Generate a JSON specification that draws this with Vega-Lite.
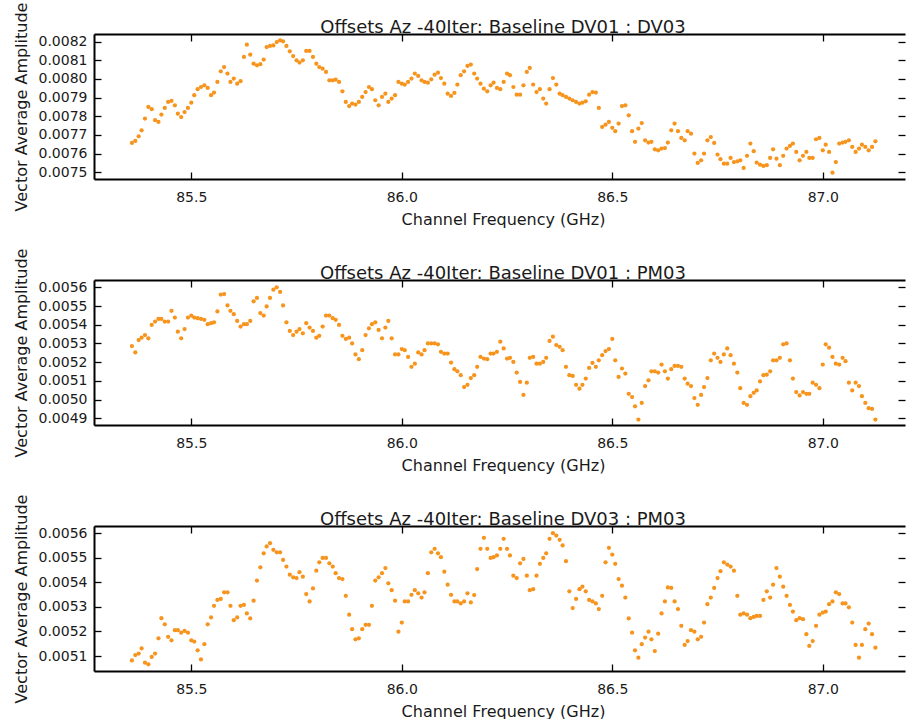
{
"$schema": "https://vega.github.io/schema/vega-lite/v6.json",
"background": "white",
"padding": {"left": 13, "top": 2, "right": 0, "bottom": 0},
"spacing": 101,
"bounds": "flush",
"config": {
  "font": "DejaVu Sans",
  "view": {"stroke": null},
  "axis": {"grid": false, "labelFont": "DejaVu Sans", "labelFontSize": 14, "labelColor": "#1a1a1a", "titleFont": "DejaVu Sans", "titleFontSize": 16, "titleFontWeight": "normal", "titleColor": "#1a1a1a", "domainColor": "#000", "domainWidth": 2, "tickColor": "#000", "tickWidth": 1.3, "tickSize": -7},
  "title": {"font": "DejaVu Sans", "fontSize": 18, "fontWeight": "normal", "color": "#1a1a1a", "anchor": "middle", "baseline": "alphabetic", "offset": 2, "dx": 3.5, "dy": 37, "frame": "group"}
},
"datasets": {
"p1": [
{"f":85.359,"a":0.007657},{"f":85.367,"a":0.007668},{"f":85.375,"a":0.007693},{"f":85.382,"a":0.007725},{"f":85.390,"a":0.007788},{"f":85.398,"a":0.00785},{"f":85.406,"a":0.007838},{"f":85.414,"a":0.007779},
{"f":85.422,"a":0.00777},{"f":85.429,"a":0.007809},{"f":85.437,"a":0.007845},{"f":85.445,"a":0.007877},{"f":85.453,"a":0.007882},{"f":85.461,"a":0.007859},{"f":85.468,"a":0.007814},{"f":85.476,"a":0.007796},
{"f":85.484,"a":0.007823},{"f":85.492,"a":0.007845},{"f":85.5,"a":0.007873},{"f":85.507,"a":0.007913},{"f":85.515,"a":0.007945},{"f":85.523,"a":0.007957},{"f":85.531,"a":0.007966},{"f":85.539,"a":0.007952},
{"f":85.547,"a":0.007913},{"f":85.554,"a":0.007927},{"f":85.562,"a":0.007984},{"f":85.57,"a":0.008041},{"f":85.578,"a":0.008064},{"f":85.586,"a":0.008029},{"f":85.593,"a":0.007984},{"f":85.601,"a":0.008002},
{"f":85.609,"a":0.007975},{"f":85.617,"a":0.007988},{"f":85.625,"a":0.008118},{"f":85.632,"a":0.008184},{"f":85.64,"a":0.00813},{"f":85.648,"a":0.008082},{"f":85.656,"a":0.008073},{"f":85.664,"a":0.008079},
{"f":85.672,"a":0.008104},{"f":85.679,"a":0.008171},{"f":85.687,"a":0.008177},{"f":85.695,"a":0.00818},{"f":85.703,"a":0.008198},{"f":85.711,"a":0.008207},{"f":85.718,"a":0.008202},{"f":85.726,"a":0.008177},
{"f":85.734,"a":0.008148},{"f":85.742,"a":0.008123},{"f":85.75,"a":0.0081},{"f":85.757,"a":0.008088},{"f":85.765,"a":0.0081},{"f":85.773,"a":0.00815},{"f":85.781,"a":0.00815},{"f":85.789,"a":0.008118},
{"f":85.797,"a":0.008082},{"f":85.804,"a":0.008064},{"f":85.812,"a":0.008055},{"f":85.82,"a":0.008038},{"f":85.828,"a":0.007993},{"f":85.836,"a":0.007993},{"f":85.843,"a":0.007996},{"f":85.851,"a":0.007984},
{"f":85.859,"a":0.007934},{"f":85.867,"a":0.007877},{"f":85.875,"a":0.007855},{"f":85.882,"a":0.007868},{"f":85.89,"a":0.007863},{"f":85.898,"a":0.007877},{"f":85.906,"a":0.007904},{"f":85.914,"a":0.00793},
{"f":85.922,"a":0.007957},{"f":85.929,"a":0.007945},{"f":85.937,"a":0.007886},{"f":85.945,"a":0.007859},{"f":85.953,"a":0.007904},{"f":85.961,"a":0.007921},{"f":85.968,"a":0.007877},{"f":85.976,"a":0.007895},
{"f":85.984,"a":0.007913},{"f":85.992,"a":0.007984},{"f":86.0,"a":0.007975},{"f":86.007,"a":0.00797},{"f":86.015,"a":0.007984},{"f":86.023,"a":0.008002},{"f":86.031,"a":0.008029},{"f":86.039,"a":0.008016},
{"f":86.047,"a":0.007993},{"f":86.054,"a":0.007984},{"f":86.062,"a":0.00798},{"f":86.07,"a":0.007998},{"f":86.078,"a":0.008023},{"f":86.086,"a":0.008034},{"f":86.093,"a":0.008005},{"f":86.101,"a":0.007975},
{"f":86.109,"a":0.007921},{"f":86.117,"a":0.007909},{"f":86.125,"a":0.007925},{"f":86.132,"a":0.00797},{"f":86.14,"a":0.00802},{"f":86.148,"a":0.008041},{"f":86.156,"a":0.00807},{"f":86.164,"a":0.008077},
{"f":86.172,"a":0.008029},{"f":86.179,"a":0.008002},{"f":86.187,"a":0.007975},{"f":86.195,"a":0.007948},{"f":86.203,"a":0.007934},{"f":86.211,"a":0.007966},{"f":86.218,"a":0.00798},{"f":86.226,"a":0.007952},
{"f":86.234,"a":0.007945},{"f":86.242,"a":0.007984},{"f":86.25,"a":0.008029},{"f":86.257,"a":0.00802},{"f":86.265,"a":0.007957},{"f":86.273,"a":0.007916},{"f":86.281,"a":0.007916},{"f":86.289,"a":0.007966},
{"f":86.297,"a":0.008038},{"f":86.304,"a":0.008059},{"f":86.312,"a":0.00797},{"f":86.32,"a":0.00793},{"f":86.328,"a":0.007945},{"f":86.336,"a":0.007895},{"f":86.343,"a":0.007868},{"f":86.351,"a":0.007945},
{"f":86.359,"a":0.008005},{"f":86.367,"a":0.00797},{"f":86.375,"a":0.007921},{"f":86.382,"a":0.007913},{"f":86.39,"a":0.007904},{"f":86.398,"a":0.007895},{"f":86.406,"a":0.007886},{"f":86.414,"a":0.007877},
{"f":86.422,"a":0.007868},{"f":86.429,"a":0.007873},{"f":86.437,"a":0.00788},{"f":86.445,"a":0.007916},{"f":86.453,"a":0.00793},{"f":86.461,"a":0.007927},{"f":86.468,"a":0.007845},{"f":86.476,"a":0.007743},
{"f":86.484,"a":0.007755},{"f":86.492,"a":0.00777},{"f":86.5,"a":0.007738},{"f":86.507,"a":0.00772},{"f":86.515,"a":0.007761},{"f":86.523,"a":0.007855},{"f":86.531,"a":0.007859},{"f":86.539,"a":0.007805},
{"f":86.547,"a":0.00772},{"f":86.554,"a":0.007663},{"f":86.562,"a":0.007734},{"f":86.57,"a":0.007764},{"f":86.578,"a":0.007671},{"f":86.586,"a":0.007659},{"f":86.593,"a":0.007663},{"f":86.601,"a":0.007623},
{"f":86.609,"a":0.007618},{"f":86.617,"a":0.007627},{"f":86.625,"a":0.00763},{"f":86.632,"a":0.007659},{"f":86.64,"a":0.007725},{"f":86.648,"a":0.007761},{"f":86.656,"a":0.00772},{"f":86.664,"a":0.007684},
{"f":86.672,"a":0.007671},{"f":86.679,"a":0.00772},{"f":86.687,"a":0.007707},{"f":86.695,"a":0.0076},{"f":86.703,"a":0.00755},{"f":86.711,"a":0.007564},{"f":86.718,"a":0.0076},{"f":86.726,"a":0.007671},
{"f":86.734,"a":0.007689},{"f":86.742,"a":0.007657},{"f":86.75,"a":0.007595},{"f":86.757,"a":0.00757},{"f":86.765,"a":0.007546},{"f":86.773,"a":0.007546},{"f":86.781,"a":0.007577},{"f":86.789,"a":0.007555},
{"f":86.797,"a":0.007559},{"f":86.804,"a":0.007564},{"f":86.812,"a":0.007523},{"f":86.82,"a":0.007588},{"f":86.828,"a":0.007654},{"f":86.836,"a":0.007613},{"f":86.843,"a":0.007552},{"f":86.851,"a":0.007541},
{"f":86.859,"a":0.007534},{"f":86.867,"a":0.007538},{"f":86.875,"a":0.007577},{"f":86.882,"a":0.007623},{"f":86.89,"a":0.007573},{"f":86.898,"a":0.007538},{"f":86.906,"a":0.007588},{"f":86.914,"a":0.007627},
{"f":86.922,"a":0.007641},{"f":86.929,"a":0.007654},{"f":86.937,"a":0.007609},{"f":86.945,"a":0.007564},{"f":86.953,"a":0.007588},{"f":86.961,"a":0.007609},{"f":86.968,"a":0.007577},{"f":86.976,"a":0.007577},
{"f":86.984,"a":0.007677},{"f":86.992,"a":0.007684},{"f":87.0,"a":0.007618},{"f":87.007,"a":0.007648},{"f":87.015,"a":0.007609},{"f":87.023,"a":0.007498},{"f":87.031,"a":0.007555},{"f":87.039,"a":0.007654},
{"f":87.047,"a":0.007659},{"f":87.054,"a":0.007663},{"f":87.062,"a":0.007671},{"f":87.07,"a":0.007636},{"f":87.078,"a":0.007609},{"f":87.086,"a":0.007627},{"f":87.093,"a":0.007648},{"f":87.101,"a":0.007636},
{"f":87.109,"a":0.007618},{"f":87.117,"a":0.007636},{"f":87.125,"a":0.007666}
],
"p2": [
{"f":85.359,"a":0.005286},{"f":85.367,"a":0.005252},{"f":85.375,"a":0.005318},{"f":85.382,"a":0.005331},{"f":85.390,"a":0.005345},{"f":85.398,"a":0.005327},{"f":85.406,"a":0.005399},{"f":85.414,"a":0.005417},
{"f":85.422,"a":0.005431},{"f":85.429,"a":0.005431},{"f":85.437,"a":0.005417},{"f":85.445,"a":0.005417},{"f":85.453,"a":0.005474},{"f":85.461,"a":0.005438},{"f":85.468,"a":0.005363},{"f":85.476,"a":0.005327},
{"f":85.484,"a":0.005377},{"f":85.492,"a":0.005438},{"f":85.5,"a":0.005449},{"f":85.507,"a":0.005438},{"f":85.515,"a":0.005435},{"f":85.523,"a":0.005431},{"f":85.531,"a":0.005426},{"f":85.539,"a":0.005403},
{"f":85.547,"a":0.005408},{"f":85.554,"a":0.005413},{"f":85.562,"a":0.005471},{"f":85.57,"a":0.005561},{"f":85.578,"a":0.005564},{"f":85.586,"a":0.005503},{"f":85.593,"a":0.005474},{"f":85.601,"a":0.005456},
{"f":85.609,"a":0.00542},{"f":85.617,"a":0.00539},{"f":85.625,"a":0.005403},{"f":85.632,"a":0.005403},{"f":85.64,"a":0.00542},{"f":85.648,"a":0.005525},{"f":85.656,"a":0.005543},{"f":85.664,"a":0.005462},
{"f":85.672,"a":0.005449},{"f":85.679,"a":0.005498},{"f":85.687,"a":0.005543},{"f":85.695,"a":0.005587},{"f":85.703,"a":0.0056},{"f":85.711,"a":0.005575},{"f":85.718,"a":0.005503},{"f":85.726,"a":0.005413},
{"f":85.734,"a":0.005367},{"f":85.742,"a":0.005345},{"f":85.75,"a":0.005363},{"f":85.757,"a":0.005377},{"f":85.765,"a":0.005354},{"f":85.773,"a":0.005408},{"f":85.781,"a":0.005385},{"f":85.789,"a":0.005367},
{"f":85.797,"a":0.005331},{"f":85.804,"a":0.005341},{"f":85.812,"a":0.00539},{"f":85.82,"a":0.005449},{"f":85.828,"a":0.005449},{"f":85.836,"a":0.005435},{"f":85.843,"a":0.005426},{"f":85.851,"a":0.005399},
{"f":85.859,"a":0.005341},{"f":85.867,"a":0.005324},{"f":85.875,"a":0.005331},{"f":85.882,"a":0.0053},{"f":85.89,"a":0.005241},{"f":85.898,"a":0.005216},{"f":85.906,"a":0.005264},{"f":85.914,"a":0.005345},
{"f":85.922,"a":0.005381},{"f":85.929,"a":0.005403},{"f":85.937,"a":0.005413},{"f":85.945,"a":0.005372},{"f":85.953,"a":0.005327},{"f":85.961,"a":0.005385},{"f":85.968,"a":0.00542},{"f":85.976,"a":0.005327},
{"f":85.984,"a":0.005241},{"f":85.992,"a":0.005241},{"f":86.0,"a":0.00527},{"f":86.007,"a":0.005264},{"f":86.015,"a":0.005228},{"f":86.023,"a":0.005175},{"f":86.031,"a":0.005192},{"f":86.039,"a":0.005252},
{"f":86.047,"a":0.005241},{"f":86.054,"a":0.005264},{"f":86.062,"a":0.0053},{"f":86.07,"a":0.0053},{"f":86.078,"a":0.0053},{"f":86.086,"a":0.005295},{"f":86.093,"a":0.005255},{"f":86.101,"a":0.005246},
{"f":86.109,"a":0.005246},{"f":86.117,"a":0.005198},{"f":86.125,"a":0.005162},{"f":86.132,"a":0.005151},{"f":86.14,"a":0.00513},{"f":86.148,"a":0.005067},{"f":86.156,"a":0.005079},{"f":86.164,"a":0.005115},
{"f":86.172,"a":0.00513},{"f":86.179,"a":0.005175},{"f":86.187,"a":0.005228},{"f":86.195,"a":0.005219},{"f":86.203,"a":0.005216},{"f":86.211,"a":0.005246},{"f":86.218,"a":0.005246},{"f":86.226,"a":0.005255},
{"f":86.234,"a":0.005309},{"f":86.242,"a":0.005273},{"f":86.25,"a":0.005219},{"f":86.257,"a":0.005223},{"f":86.265,"a":0.005201},{"f":86.273,"a":0.005144},{"f":86.281,"a":0.005094},{"f":86.289,"a":0.005025},
{"f":86.297,"a":0.00509},{"f":86.304,"a":0.005223},{"f":86.312,"a":0.005228},{"f":86.32,"a":0.005192},{"f":86.328,"a":0.005192},{"f":86.336,"a":0.005201},{"f":86.343,"a":0.005223},{"f":86.351,"a":0.005313},
{"f":86.359,"a":0.005336},{"f":86.367,"a":0.005291},{"f":86.375,"a":0.005282},{"f":86.382,"a":0.005264},{"f":86.39,"a":0.005175},{"f":86.398,"a":0.00513},{"f":86.406,"a":0.005126},{"f":86.414,"a":0.005079},
{"f":86.422,"a":0.005058},{"f":86.429,"a":0.005079},{"f":86.437,"a":0.005112},{"f":86.445,"a":0.005169},{"f":86.453,"a":0.005196},{"f":86.461,"a":0.005175},{"f":86.468,"a":0.00521},{"f":86.476,"a":0.005237},
{"f":86.484,"a":0.005259},{"f":86.492,"a":0.00527},{"f":86.5,"a":0.005324},{"f":86.507,"a":0.00521},{"f":86.515,"a":0.005121},{"f":86.523,"a":0.005166},{"f":86.531,"a":0.005139},{"f":86.539,"a":0.005031},
{"f":86.547,"a":0.005013},{"f":86.554,"a":0.004964},{"f":86.562,"a":0.004893},{"f":86.57,"a":0.004982},{"f":86.578,"a":0.005072},{"f":86.586,"a":0.005103},{"f":86.593,"a":0.005151},{"f":86.601,"a":0.005151},
{"f":86.609,"a":0.005144},{"f":86.617,"a":0.005187},{"f":86.625,"a":0.005151},{"f":86.632,"a":0.005112},{"f":86.64,"a":0.005162},{"f":86.648,"a":0.00518},{"f":86.656,"a":0.00518},{"f":86.664,"a":0.005175},
{"f":86.672,"a":0.005112},{"f":86.679,"a":0.005085},{"f":86.687,"a":0.005072},{"f":86.695,"a":0.005008},{"f":86.703,"a":0.004972},{"f":86.711,"a":0.005025},{"f":86.718,"a":0.005067},{"f":86.726,"a":0.005115},
{"f":86.734,"a":0.00521},{"f":86.742,"a":0.005246},{"f":86.75,"a":0.005223},{"f":86.757,"a":0.005201},{"f":86.765,"a":0.005241},{"f":86.773,"a":0.005273},{"f":86.781,"a":0.005237},{"f":86.789,"a":0.005192},
{"f":86.797,"a":0.005144},{"f":86.804,"a":0.005061},{"f":86.812,"a":0.004982},{"f":86.82,"a":0.004972},{"f":86.828,"a":0.005018},{"f":86.836,"a":0.005036},{"f":86.843,"a":0.005049},{"f":86.851,"a":0.005097},
{"f":86.859,"a":0.00513},{"f":86.867,"a":0.005133},{"f":86.875,"a":0.005151},{"f":86.882,"a":0.00521},{"f":86.89,"a":0.00521},{"f":86.898,"a":0.005223},{"f":86.906,"a":0.005295},{"f":86.914,"a":0.0053},
{"f":86.922,"a":0.00521},{"f":86.929,"a":0.005112},{"f":86.937,"a":0.00504},{"f":86.945,"a":0.005022},{"f":86.953,"a":0.00504},{"f":86.961,"a":0.005031},{"f":86.968,"a":0.005031},{"f":86.976,"a":0.00509},
{"f":86.984,"a":0.005079},{"f":86.992,"a":0.005061},{"f":87.0,"a":0.005187},{"f":87.007,"a":0.005295},{"f":87.015,"a":0.005277},{"f":87.023,"a":0.005228},{"f":87.031,"a":0.005192},{"f":87.039,"a":0.005187},
{"f":87.047,"a":0.005223},{"f":87.054,"a":0.005205},{"f":87.062,"a":0.00509},{"f":87.07,"a":0.005049},{"f":87.078,"a":0.00509},{"f":87.086,"a":0.005072},{"f":87.093,"a":0.005018},{"f":87.101,"a":0.004982},
{"f":87.109,"a":0.004954},{"f":87.117,"a":0.00495},{"f":87.125,"a":0.004893}
],
"p3": [
{"f":85.359,"a":0.005082},{"f":85.367,"a":0.005104},{"f":85.375,"a":0.00511},{"f":85.382,"a":0.005131},{"f":85.390,"a":0.005073},{"f":85.398,"a":0.005066},{"f":85.406,"a":0.005096},{"f":85.414,"a":0.00511},
{"f":85.422,"a":0.005172},{"f":85.429,"a":0.005254},{"f":85.437,"a":0.005229},{"f":85.445,"a":0.005178},{"f":85.453,"a":0.005164},{"f":85.461,"a":0.005205},{"f":85.468,"a":0.005205},{"f":85.476,"a":0.005195},
{"f":85.484,"a":0.005202},{"f":85.492,"a":0.005195},{"f":85.5,"a":0.005164},{"f":85.507,"a":0.005159},{"f":85.515,"a":0.005123},{"f":85.523,"a":0.005086},{"f":85.531,"a":0.005148},{"f":85.539,"a":0.005229},
{"f":85.547,"a":0.005257},{"f":85.554,"a":0.005304},{"f":85.562,"a":0.005328},{"f":85.57,"a":0.005332},{"f":85.578,"a":0.005359},{"f":85.586,"a":0.005359},{"f":85.593,"a":0.005304},{"f":85.601,"a":0.005246},
{"f":85.609,"a":0.005257},{"f":85.617,"a":0.005304},{"f":85.625,"a":0.005308},{"f":85.632,"a":0.005273},{"f":85.64,"a":0.005253},{"f":85.648,"a":0.005325},{"f":85.656,"a":0.005407},{"f":85.664,"a":0.005461},
{"f":85.672,"a":0.005518},{"f":85.679,"a":0.005546},{"f":85.687,"a":0.005559},{"f":85.695,"a":0.005532},{"f":85.703,"a":0.005522},{"f":85.711,"a":0.005522},{"f":85.718,"a":0.005491},{"f":85.726,"a":0.005464},
{"f":85.734,"a":0.005431},{"f":85.742,"a":0.00542},{"f":85.75,"a":0.005417},{"f":85.757,"a":0.005441},{"f":85.765,"a":0.005423},{"f":85.773,"a":0.005352},{"f":85.781,"a":0.005322},{"f":85.789,"a":0.005375},
{"f":85.797,"a":0.005447},{"f":85.804,"a":0.005481},{"f":85.812,"a":0.005499},{"f":85.82,"a":0.005499},{"f":85.828,"a":0.005477},{"f":85.836,"a":0.005464},{"f":85.843,"a":0.005437},{"f":85.851,"a":0.005417},
{"f":85.859,"a":0.005413},{"f":85.867,"a":0.005345},{"f":85.875,"a":0.005268},{"f":85.882,"a":0.005209},{"f":85.89,"a":0.005168},{"f":85.898,"a":0.005172},{"f":85.906,"a":0.005209},{"f":85.914,"a":0.005227},
{"f":85.922,"a":0.005227},{"f":85.929,"a":0.005304},{"f":85.937,"a":0.005407},{"f":85.945,"a":0.00542},{"f":85.953,"a":0.005437},{"f":85.961,"a":0.005458},{"f":85.968,"a":0.005396},{"f":85.976,"a":0.005368},
{"f":85.984,"a":0.005325},{"f":85.992,"a":0.005199},{"f":86.0,"a":0.005236},{"f":86.007,"a":0.005322},{"f":86.015,"a":0.005322},{"f":86.023,"a":0.005349},{"f":86.031,"a":0.005368},{"f":86.039,"a":0.005355},
{"f":86.047,"a":0.005338},{"f":86.054,"a":0.005359},{"f":86.062,"a":0.005437},{"f":86.07,"a":0.005522},{"f":86.078,"a":0.005536},{"f":86.086,"a":0.005518},{"f":86.093,"a":0.005502},{"f":86.101,"a":0.005443},
{"f":86.109,"a":0.00539},{"f":86.117,"a":0.005349},{"f":86.125,"a":0.005322},{"f":86.132,"a":0.005322},{"f":86.14,"a":0.005314},{"f":86.148,"a":0.005322},{"f":86.156,"a":0.005355},{"f":86.164,"a":0.005318},
{"f":86.172,"a":0.005348},{"f":86.179,"a":0.005454},{"f":86.187,"a":0.005536},{"f":86.195,"a":0.005581},{"f":86.203,"a":0.005536},{"f":86.211,"a":0.005499},{"f":86.218,"a":0.005502},{"f":86.226,"a":0.005509},
{"f":86.234,"a":0.005536},{"f":86.242,"a":0.005577},{"f":86.25,"a":0.005536},{"f":86.257,"a":0.005509},{"f":86.265,"a":0.005427},{"f":86.273,"a":0.005417},{"f":86.281,"a":0.005477},{"f":86.289,"a":0.005495},
{"f":86.297,"a":0.005427},{"f":86.304,"a":0.005368},{"f":86.312,"a":0.005372},{"f":86.32,"a":0.005427},{"f":86.328,"a":0.005475},{"f":86.336,"a":0.005499},{"f":86.343,"a":0.005518},{"f":86.351,"a":0.005577},
{"f":86.359,"a":0.0056},{"f":86.367,"a":0.00559},{"f":86.375,"a":0.005573},{"f":86.382,"a":0.00555},{"f":86.39,"a":0.005486},{"f":86.398,"a":0.005363},{"f":86.406,"a":0.005295},{"f":86.414,"a":0.005332},
{"f":86.422,"a":0.005372},{"f":86.429,"a":0.005382},{"f":86.437,"a":0.005363},{"f":86.445,"a":0.005328},{"f":86.453,"a":0.005322},{"f":86.461,"a":0.005314},{"f":86.468,"a":0.005291},{"f":86.476,"a":0.005345},
{"f":86.484,"a":0.005481},{"f":86.492,"a":0.00554},{"f":86.5,"a":0.005513},{"f":86.507,"a":0.005475},{"f":86.515,"a":0.005413},{"f":86.523,"a":0.005386},{"f":86.531,"a":0.005338},{"f":86.539,"a":0.005253},
{"f":86.547,"a":0.005195},{"f":86.554,"a":0.005123},{"f":86.562,"a":0.005093},{"f":86.57,"a":0.005148},{"f":86.578,"a":0.005175},{"f":86.586,"a":0.005199},{"f":86.593,"a":0.005168},{"f":86.601,"a":0.00512},
{"f":86.609,"a":0.005191},{"f":86.617,"a":0.005273},{"f":86.625,"a":0.005322},{"f":86.632,"a":0.005379},{"f":86.64,"a":0.005377},{"f":86.648,"a":0.005322},{"f":86.656,"a":0.005291},{"f":86.664,"a":0.005223},
{"f":86.672,"a":0.005145},{"f":86.679,"a":0.005161},{"f":86.687,"a":0.005205},{"f":86.695,"a":0.005199},{"f":86.703,"a":0.005168},{"f":86.711,"a":0.005178},{"f":86.718,"a":0.005236},{"f":86.726,"a":0.005311},
{"f":86.734,"a":0.005338},{"f":86.742,"a":0.005377},{"f":86.75,"a":0.005417},{"f":86.757,"a":0.005445},{"f":86.765,"a":0.005481},{"f":86.773,"a":0.005472},{"f":86.781,"a":0.005464},{"f":86.789,"a":0.005447},
{"f":86.797,"a":0.005345},{"f":86.804,"a":0.005268},{"f":86.812,"a":0.005273},{"f":86.82,"a":0.005268},{"f":86.828,"a":0.005254},{"f":86.836,"a":0.005259},{"f":86.843,"a":0.005263},{"f":86.851,"a":0.005263},
{"f":86.859,"a":0.005328},{"f":86.867,"a":0.005363},{"f":86.875,"a":0.005338},{"f":86.882,"a":0.00539},{"f":86.89,"a":0.005458},{"f":86.898,"a":0.005423},{"f":86.906,"a":0.005382},{"f":86.914,"a":0.005345},
{"f":86.922,"a":0.005308},{"f":86.929,"a":0.005281},{"f":86.937,"a":0.005246},{"f":86.945,"a":0.005254},{"f":86.953,"a":0.00525},{"f":86.961,"a":0.005189},{"f":86.968,"a":0.005141},{"f":86.976,"a":0.005161},
{"f":86.984,"a":0.005223},{"f":86.992,"a":0.005268},{"f":87.0,"a":0.005277},{"f":87.007,"a":0.005281},{"f":87.015,"a":0.005311},{"f":87.023,"a":0.005322},{"f":87.031,"a":0.005359},{"f":87.039,"a":0.005352},
{"f":87.047,"a":0.005314},{"f":87.054,"a":0.005314},{"f":87.062,"a":0.005298},{"f":87.07,"a":0.005236},{"f":87.078,"a":0.005145},{"f":87.086,"a":0.005093},{"f":87.093,"a":0.005145},{"f":87.101,"a":0.005209},
{"f":87.109,"a":0.005232},{"f":87.117,"a":0.005189},{"f":87.125,"a":0.005134}
]
},
"vconcat": [
{
  "width": 811, "height": 145,
  "data": {"name": "p1"},
  "title": {"text": "Offsets Az -40Iter: Baseline DV01 : DV03"},
  "layer": [
    {"mark": {"type": "point", "opacity": 0},
     "encoding": {
       "x": {"field": "f", "type": "quantitative", "scale": {"domain": [85.2689, 87.1953], "nice": false, "zero": false}, "axis": {"orient": "top", "values": [85.5, 86, 86.5, 87], "labels": false, "title": null}},
       "y": {"field": "a", "type": "quantitative", "scale": {"domain": [0.007464, 0.008241], "nice": false, "zero": false}, "axis": {"orient": "right", "values": [0.0075,0.0076,0.0077,0.0078,0.0079,0.008,0.0081,0.0082], "labels": false, "title": null, "domain": false}}}},
    {"mark": {"type": "point", "filled": true, "size": 18, "color": "#f7941d", "opacity": 1},
     "encoding": {
       "x": {"field": "f", "type": "quantitative", "axis": {"orient": "bottom", "values": [85.5, 86, 86.5, 87], "format": ".1f", "title": "Channel Frequency (GHz)", "labelPadding": 18, "titlePadding": 7, "titleX": 409}},
       "y": {"field": "a", "type": "quantitative", "axis": {"orient": "left", "values": [0.0075,0.0076,0.0077,0.0078,0.0079,0.008,0.0081,0.0082], "format": ".4f", "title": "Vector Average Amplitude", "labelPadding": 14, "titlePadding": 9}}}}
  ],
  "resolve": {"axis": {"x": "independent", "y": "independent"}}
},
{
  "width": 811, "height": 145,
  "data": {"name": "p2"},
  "title": {"text": "Offsets Az -40Iter: Baseline DV01 : PM03"},
  "layer": [
    {"mark": {"type": "point", "opacity": 0},
     "encoding": {
       "x": {"field": "f", "type": "quantitative", "scale": {"domain": [85.2689, 87.1953], "nice": false, "zero": false}, "axis": {"orient": "top", "values": [85.5, 86, 86.5, 87], "labels": false, "title": null}},
       "y": {"field": "a", "type": "quantitative", "scale": {"domain": [0.004864, 0.005639], "nice": false, "zero": false}, "axis": {"orient": "right", "values": [0.0049,0.005,0.0051,0.0052,0.0053,0.0054,0.0055,0.0056], "labels": false, "title": null, "domain": false}}}},
    {"mark": {"type": "point", "filled": true, "size": 18, "color": "#f7941d", "opacity": 1},
     "encoding": {
       "x": {"field": "f", "type": "quantitative", "axis": {"orient": "bottom", "values": [85.5, 86, 86.5, 87], "format": ".1f", "title": "Channel Frequency (GHz)", "labelPadding": 18, "titlePadding": 7, "titleX": 409}},
       "y": {"field": "a", "type": "quantitative", "axis": {"orient": "left", "values": [0.0049,0.005,0.0051,0.0052,0.0053,0.0054,0.0055,0.0056], "format": ".4f", "title": "Vector Average Amplitude", "labelPadding": 14, "titlePadding": 9}}}}
  ],
  "resolve": {"axis": {"x": "independent", "y": "independent"}}
},
{
  "width": 811, "height": 145,
  "data": {"name": "p3"},
  "title": {"text": "Offsets Az -40Iter: Baseline DV03 : PM03"},
  "layer": [
    {"mark": {"type": "point", "opacity": 0},
     "encoding": {
       "x": {"field": "f", "type": "quantitative", "scale": {"domain": [85.2689, 87.1953], "nice": false, "zero": false}, "axis": {"orient": "top", "values": [85.5, 86, 86.5, 87], "labels": false, "title": null}},
       "y": {"field": "a", "type": "quantitative", "scale": {"domain": [0.005039, 0.005629], "nice": false, "zero": false}, "axis": {"orient": "right", "values": [0.0051,0.0052,0.0053,0.0054,0.0055,0.0056], "labels": false, "title": null, "domain": false}}}},
    {"mark": {"type": "point", "filled": true, "size": 18, "color": "#f7941d", "opacity": 1},
     "encoding": {
       "x": {"field": "f", "type": "quantitative", "axis": {"orient": "bottom", "values": [85.5, 86, 86.5, 87], "format": ".1f", "title": "Channel Frequency (GHz)", "labelPadding": 18, "titlePadding": 7, "titleX": 409}},
       "y": {"field": "a", "type": "quantitative", "axis": {"orient": "left", "values": [0.0051,0.0052,0.0053,0.0054,0.0055,0.0056], "format": ".4f", "title": "Vector Average Amplitude", "labelPadding": 14, "titlePadding": 9}}}}
  ],
  "resolve": {"axis": {"x": "independent", "y": "independent"}}
}
]
}
